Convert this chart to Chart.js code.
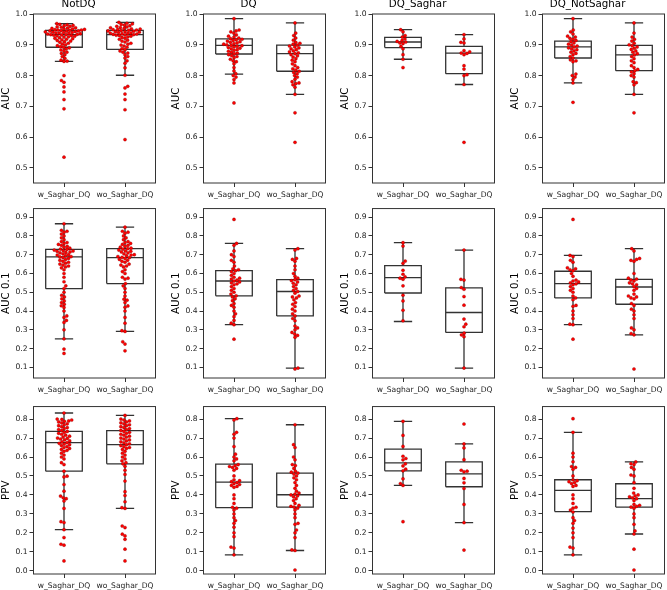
<!DOCTYPE html>
<html><head><meta charset="utf-8">
<script src="https://cdn.jsdelivr.net/npm/chart.js@4.4.1/dist/chart.umd.min.js"></script>
<style>
html,body{margin:0;padding:0;background:#fff;}
body{width:667px;height:590px;overflow:hidden;position:relative;}
canvas{position:absolute;}
</style></head><body>
<script>
// ---------------- DATA ----------------
const columnTitles = ['NotDQ', 'DQ', 'DQ_Saghar', 'DQ_NotSaghar'];
const metricLabels = ['AUC', 'AUC 0.1', 'PPV'];
const categories = ['w_Saghar_DQ', 'wo_Saghar_DQ'];

const yTicksAUC = [0.5, 0.6, 0.7, 0.8, 0.9, 1.0];
const yTicksAUC01 = [0.1, 0.2, 0.3, 0.4, 0.5, 0.6, 0.7, 0.8, 0.9];
const yTicksPPV = [0.0, 0.1, 0.2, 0.3, 0.4, 0.5, 0.6, 0.7, 0.8];
const yRangeAUC = [0.451, 1.0];
const yRangeAUC01 = [0.043, 0.946];
const yRangePPV = [-0.017, 0.866];

// box stats per group: [lower whisker, Q1, median, Q3, upper whisker]
const boxAUC_NotDQ = [[0.846, 0.892, 0.933, 0.947, 0.969], [0.801, 0.885, 0.933, 0.947, 0.973]];
const boxAUC_DQ = [[0.805, 0.870, 0.898, 0.919, 0.985], [0.739, 0.814, 0.871, 0.899, 0.971]];
const boxAUC_DQSaghar = [[0.853, 0.891, 0.909, 0.924, 0.949], [0.771, 0.806, 0.873, 0.895, 0.933]];
const boxAUC_DQNotSaghar = [[0.776, 0.857, 0.893, 0.912, 0.985], [0.739, 0.816, 0.867, 0.898, 0.971]];

const boxAUC01_NotDQ = [[0.252, 0.519, 0.688, 0.728, 0.865], [0.291, 0.546, 0.684, 0.732, 0.847]];
const boxAUC01_DQ = [[0.327, 0.481, 0.560, 0.615, 0.760], [0.096, 0.374, 0.504, 0.567, 0.732]];
const boxAUC01_DQSaghar = [[0.344, 0.496, 0.578, 0.642, 0.764], [0.096, 0.286, 0.392, 0.523, 0.725]];
const boxAUC01_DQNotSaghar = [[0.327, 0.470, 0.546, 0.612, 0.696], [0.273, 0.436, 0.528, 0.569, 0.732]];

const boxPPV_NotDQ = [[0.217, 0.525, 0.676, 0.735, 0.832], [0.329, 0.564, 0.665, 0.739, 0.819]];
const boxPPV_DQ = [[0.084, 0.333, 0.467, 0.562, 0.802], [0.107, 0.336, 0.401, 0.515, 0.770]];
const boxPPV_DQSaghar = [[0.450, 0.527, 0.569, 0.642, 0.788], [0.254, 0.443, 0.511, 0.574, 0.669]];
const boxPPV_DQNotSaghar = [[0.084, 0.312, 0.424, 0.480, 0.730], [0.194, 0.336, 0.380, 0.459, 0.574]];

// individual points (swarm)
const ptsAUC_NotDQ_w = [0.969,0.966,0.965,0.963,0.962,0.960,0.958,0.957,0.955,0.954,0.953,0.952,0.951,0.950,0.949,0.948,0.948,0.947,0.946,0.945,0.945,0.944,0.943,0.942,0.941,0.940,0.940,0.939,0.938,0.937,0.936,0.935,0.934,0.933,0.933,0.932,0.931,0.930,0.929,0.928,0.926,0.925,0.923,0.921,0.920,0.918,0.916,0.914,0.912,0.910,0.908,0.905,0.902,0.900,0.897,0.894,0.892,0.890,0.887,0.883,0.880,0.876,0.872,0.868,0.862,0.856,0.850,0.847,0.846,0.800,0.784,0.778,0.763,0.747,0.722,0.692,0.535];
const ptsAUC_NotDQ_wo = [0.973,0.970,0.968,0.966,0.964,0.962,0.960,0.958,0.956,0.955,0.953,0.952,0.951,0.950,0.949,0.948,0.947,0.946,0.945,0.944,0.943,0.942,0.941,0.940,0.939,0.938,0.937,0.936,0.935,0.934,0.933,0.932,0.931,0.930,0.928,0.926,0.924,0.921,0.918,0.915,0.912,0.909,0.905,0.902,0.899,0.896,0.892,0.888,0.884,0.880,0.876,0.873,0.868,0.862,0.857,0.848,0.840,0.825,0.801,0.765,0.760,0.740,0.722,0.689,0.592];
const ptsAUC_DQ_w = [0.985,0.948,0.945,0.942,0.938,0.932,0.928,0.925,0.922,0.920,0.918,0.916,0.914,0.912,0.910,0.908,0.906,0.904,0.902,0.900,0.898,0.897,0.895,0.893,0.891,0.889,0.887,0.884,0.882,0.879,0.876,0.873,0.871,0.868,0.865,0.862,0.858,0.853,0.848,0.845,0.838,0.826,0.815,0.806,0.800,0.795,0.787,0.776,0.711];
const ptsAUC_DQ_wo = [0.971,0.938,0.930,0.922,0.915,0.908,0.905,0.902,0.899,0.896,0.893,0.890,0.887,0.884,0.880,0.877,0.874,0.871,0.868,0.864,0.860,0.855,0.850,0.845,0.838,0.832,0.826,0.822,0.818,0.814,0.810,0.806,0.800,0.795,0.788,0.780,0.776,0.774,0.770,0.762,0.739,0.679,0.583];
const ptsAUC_DQSaghar_w = [0.949,0.942,0.930,0.925,0.919,0.914,0.911,0.909,0.906,0.904,0.895,0.887,0.868,0.853,0.826];
const ptsAUC_DQSaghar_wo = [0.933,0.919,0.908,0.906,0.881,0.877,0.873,0.872,0.868,0.832,0.821,0.803,0.800,0.771,0.583];
const ptsAUC_DQNotSaghar_w = [0.985,0.948,0.942,0.935,0.928,0.925,0.921,0.918,0.914,0.910,0.906,0.902,0.899,0.896,0.893,0.890,0.887,0.884,0.880,0.876,0.872,0.868,0.862,0.857,0.851,0.848,0.845,0.805,0.800,0.795,0.787,0.776,0.713];
const ptsAUC_DQNotSaghar_wo = [0.971,0.938,0.925,0.918,0.912,0.905,0.900,0.897,0.893,0.889,0.885,0.880,0.876,0.871,0.867,0.862,0.855,0.848,0.842,0.832,0.826,0.820,0.816,0.812,0.806,0.800,0.795,0.780,0.777,0.770,0.739,0.679];

const ptsAUC01_NotDQ_w = [0.865,0.830,0.825,0.820,0.810,0.800,0.790,0.780,0.770,0.765,0.760,0.755,0.750,0.745,0.740,0.735,0.730,0.728,0.725,0.722,0.720,0.718,0.715,0.712,0.710,0.705,0.700,0.698,0.695,0.690,0.688,0.685,0.680,0.675,0.670,0.665,0.660,0.655,0.650,0.645,0.640,0.635,0.630,0.620,0.600,0.580,0.556,0.534,0.520,0.500,0.484,0.475,0.465,0.454,0.445,0.436,0.428,0.419,0.400,0.374,0.366,0.350,0.339,0.300,0.252,0.197,0.174];
const ptsAUC01_NotDQ_wo = [0.847,0.825,0.820,0.815,0.800,0.790,0.780,0.770,0.765,0.760,0.755,0.750,0.745,0.740,0.735,0.732,0.730,0.725,0.720,0.718,0.715,0.710,0.705,0.700,0.698,0.695,0.690,0.686,0.684,0.680,0.675,0.670,0.665,0.660,0.650,0.645,0.640,0.635,0.620,0.610,0.600,0.580,0.575,0.570,0.546,0.534,0.520,0.500,0.480,0.463,0.458,0.445,0.427,0.420,0.400,0.366,0.335,0.295,0.291,0.236,0.224,0.188];
const ptsAUC01_DQ_w = [0.888,0.760,0.750,0.720,0.700,0.690,0.670,0.660,0.640,0.625,0.620,0.615,0.610,0.600,0.590,0.580,0.575,0.570,0.565,0.560,0.555,0.550,0.545,0.540,0.530,0.520,0.510,0.500,0.490,0.481,0.475,0.465,0.455,0.440,0.430,0.420,0.400,0.385,0.370,0.350,0.335,0.327,0.250];
const ptsAUC01_DQ_wo = [0.732,0.725,0.680,0.675,0.665,0.640,0.620,0.600,0.585,0.575,0.567,0.562,0.555,0.548,0.540,0.530,0.520,0.510,0.504,0.495,0.480,0.475,0.470,0.460,0.445,0.436,0.424,0.410,0.400,0.385,0.374,0.360,0.348,0.320,0.310,0.300,0.286,0.277,0.270,0.260,0.096,0.091];
const ptsAUC01_DQSaghar_w = [0.764,0.746,0.666,0.654,0.617,0.596,0.582,0.575,0.569,0.534,0.484,0.454,0.404,0.348];
const ptsAUC01_DQSaghar_wo = [0.725,0.569,0.565,0.525,0.516,0.477,0.431,0.357,0.330,0.316,0.282,0.273,0.263,0.096];
const ptsAUC01_DQNotSaghar_w = [0.888,0.696,0.690,0.670,0.660,0.630,0.625,0.620,0.615,0.600,0.585,0.565,0.560,0.555,0.550,0.545,0.540,0.530,0.520,0.510,0.500,0.480,0.470,0.460,0.430,0.425,0.400,0.380,0.360,0.330,0.327,0.250];
const ptsAUC01_DQNotSaghar_wo = [0.732,0.720,0.680,0.675,0.670,0.665,0.600,0.575,0.570,0.565,0.560,0.550,0.545,0.540,0.530,0.520,0.510,0.490,0.480,0.475,0.470,0.465,0.440,0.430,0.410,0.400,0.380,0.360,0.310,0.300,0.280,0.273,0.091];

const ptsPPV_NotDQ_w = [0.832,0.800,0.798,0.795,0.790,0.788,0.785,0.780,0.775,0.770,0.765,0.760,0.755,0.750,0.745,0.740,0.735,0.730,0.725,0.720,0.715,0.710,0.705,0.700,0.698,0.695,0.690,0.685,0.680,0.676,0.672,0.668,0.665,0.660,0.655,0.650,0.645,0.640,0.635,0.630,0.620,0.610,0.600,0.590,0.570,0.560,0.525,0.499,0.495,0.455,0.420,0.394,0.385,0.380,0.368,0.329,0.259,0.254,0.217,0.175,0.140,0.135,0.052];
const ptsPPV_NotDQ_wo = [0.819,0.800,0.795,0.790,0.785,0.780,0.775,0.770,0.765,0.760,0.755,0.750,0.745,0.740,0.735,0.730,0.725,0.720,0.715,0.710,0.705,0.700,0.695,0.690,0.685,0.680,0.675,0.670,0.665,0.660,0.655,0.650,0.645,0.640,0.630,0.620,0.610,0.600,0.590,0.580,0.570,0.564,0.551,0.530,0.508,0.473,0.417,0.397,0.364,0.333,0.329,0.236,0.228,0.193,0.184,0.166,0.114,0.052];
const ptsPPV_DQ_w = [0.802,0.795,0.730,0.720,0.700,0.655,0.615,0.600,0.590,0.580,0.560,0.555,0.550,0.545,0.540,0.530,0.500,0.480,0.475,0.470,0.465,0.460,0.455,0.450,0.445,0.440,0.400,0.380,0.355,0.335,0.330,0.320,0.300,0.280,0.265,0.250,0.230,0.200,0.180,0.125,0.120,0.084];
const ptsPPV_DQ_wo = [0.770,0.665,0.650,0.600,0.585,0.560,0.555,0.540,0.525,0.520,0.515,0.510,0.500,0.490,0.480,0.465,0.450,0.435,0.420,0.410,0.405,0.400,0.395,0.390,0.380,0.370,0.355,0.345,0.340,0.336,0.330,0.320,0.300,0.280,0.250,0.245,0.215,0.200,0.175,0.110,0.107,0.004];
const ptsPPV_DQSaghar_w = [0.788,0.714,0.656,0.604,0.592,0.585,0.564,0.553,0.536,0.527,0.485,0.460,0.450,0.259];
const ptsPPV_DQSaghar_wo = [0.774,0.669,0.648,0.586,0.530,0.525,0.522,0.487,0.464,0.434,0.350,0.254,0.109];
const ptsPPV_DQNotSaghar_w = [0.802,0.730,0.620,0.600,0.575,0.550,0.545,0.535,0.500,0.480,0.475,0.470,0.465,0.460,0.450,0.445,0.400,0.380,0.355,0.335,0.330,0.320,0.310,0.280,0.265,0.250,0.225,0.200,0.175,0.125,0.120,0.084];
const ptsPPV_DQNotSaghar_wo = [0.574,0.565,0.560,0.545,0.535,0.505,0.500,0.465,0.435,0.410,0.400,0.395,0.390,0.385,0.380,0.370,0.350,0.345,0.340,0.336,0.330,0.300,0.280,0.245,0.210,0.194,0.114,0.004];

// ---------------- ASSEMBLY ----------------
const rows = [
  { ticks: yTicksAUC, range: yRangeAUC,
    boxes: [boxAUC_NotDQ, boxAUC_DQ, boxAUC_DQSaghar, boxAUC_DQNotSaghar],
    pts: [[ptsAUC_NotDQ_w, ptsAUC_NotDQ_wo], [ptsAUC_DQ_w, ptsAUC_DQ_wo], [ptsAUC_DQSaghar_w, ptsAUC_DQSaghar_wo], [ptsAUC_DQNotSaghar_w, ptsAUC_DQNotSaghar_wo]] },
  { ticks: yTicksAUC01, range: yRangeAUC01,
    boxes: [boxAUC01_NotDQ, boxAUC01_DQ, boxAUC01_DQSaghar, boxAUC01_DQNotSaghar],
    pts: [[ptsAUC01_NotDQ_w, ptsAUC01_NotDQ_wo], [ptsAUC01_DQ_w, ptsAUC01_DQ_wo], [ptsAUC01_DQSaghar_w, ptsAUC01_DQSaghar_wo], [ptsAUC01_DQNotSaghar_w, ptsAUC01_DQNotSaghar_wo]] },
  { ticks: yTicksPPV, range: yRangePPV,
    boxes: [boxPPV_NotDQ, boxPPV_DQ, boxPPV_DQSaghar, boxPPV_DQNotSaghar],
    pts: [[ptsPPV_NotDQ_w, ptsPPV_NotDQ_wo], [ptsPPV_DQ_w, ptsPPV_DQ_wo], [ptsPPV_DQSaghar_w, ptsPPV_DQSaghar_wo], [ptsPPV_DQNotSaghar_w, ptsPPV_DQNotSaghar_wo]] }
];

// layout / style constants
const FONT = 'DejaVu Sans, Liberation Sans, sans-serif';
const COL_LEFT = [33.7, 203.5, 372.8, 542.3];
const PLOT_W = 123.6;
const ROW_TOP = [14.3, 209, 406.7];
const PLOT_H = [169, 170, 168];
const Y_AXIS_W = 33.5;
const X_AXIS_H = 22;
const BOX_HALF = 0.3, CAP_HALF = 0.15;
const LINE_COLOR = '#333333';
const DOT_D = 3.2; // swarm spacing in px
const TICK_SIZE = 7.6;

const framePlugin = {
  id: 'frame',
  afterDraw(chart) {
    const {ctx, chartArea: a} = chart;
    ctx.save();
    ctx.strokeStyle = '#333';
    ctx.lineWidth = 1;
    ctx.strokeRect(a.left, a.top, a.right - a.left, a.bottom - a.top);
    ctx.restore();
  }
};

function boxLineData(stats) {
  const out = [];
  stats.forEach((s, i) => {
    const [lo, q1, med, q3, hi] = s;
    const seg = (pts) => { pts.forEach(p => out.push({x: p[0], y: p[1]})); out.push({x: i, y: null}); };
    seg([[i - BOX_HALF, q1], [i + BOX_HALF, q1], [i + BOX_HALF, q3], [i - BOX_HALF, q3], [i - BOX_HALF, q1]]);
    seg([[i - BOX_HALF, med], [i + BOX_HALF, med]]);
    seg([[i, q1], [i, lo]]);
    seg([[i - CAP_HALF, lo], [i + CAP_HALF, lo]]);
    seg([[i, q3], [i, hi]]);
    seg([[i - CAP_HALF, hi], [i + CAP_HALF, hi]]);
  });
  return out;
}

function swarmOffsets(ys, d, maxHalf) {
  const order = ys.map((y, i) => ({i, y})).sort((a, b) => b.y - a.y);
  const placed = [];
  const xs = new Array(ys.length).fill(0);
  let flip = 1;
  for (const p of order) {
    const near = placed.filter(q => Math.abs(q.y - p.y) < d);
    const cands = [0];
    for (const q of near) {
      const dx = Math.sqrt(Math.max(0, d * d - (q.y - p.y) ** 2));
      cands.push(q.x + dx, q.x - dx);
    }
    cands.sort((a, b) => Math.abs(a) - Math.abs(b) || (flip * (a - b)));
    let best = cands[cands.length - 1];
    for (const c of cands) {
      if (near.every(q => (q.x - c) ** 2 + (q.y - p.y) ** 2 >= d * d - 1e-6)) { best = c; break; }
    }
    flip = -flip;
    placed.push({x: best, y: p.y});
    xs[p.i] = Math.max(-maxHalf, Math.min(maxHalf, best));
  }
  return xs;
}

function makePanel(r, c) {
  const row = rows[r];
  const topArea = r === 0 ? 16 : 6;
  const W = Math.ceil(Y_AXIS_W + PLOT_W + 2);
  const H = Math.ceil(topArea + PLOT_H[r] + X_AXIS_H + 1);
  const canvas = document.createElement('canvas');
  canvas.width = W; canvas.height = H;
  canvas.style.width = W + 'px'; canvas.style.height = H + 'px';
  let cl = COL_LEFT[c] - Y_AXIS_W, ct = ROW_TOP[r] - topArea;
  canvas.style.left = cl + 'px';
  canvas.style.top = ct + 'px';
  document.body.appendChild(canvas);

  const rawPts = row.pts[c];
  const chart = new Chart(canvas, {
    type: 'scatter',
    data: {
      datasets: [
        { label: 'points', data: [], showLine: false,
          pointRadius: 1.6, pointBackgroundColor: '#ff0000',
          pointBorderColor: 'rgba(110,0,0,0.6)', pointBorderWidth: 0.5 },
        { label: 'boxes', data: boxLineData(row.boxes[c]), showLine: true, spanGaps: false,
          borderColor: LINE_COLOR, borderWidth: 1.3, pointRadius: 0, fill: false, tension: 0 }
      ]
    },
    options: {
      responsive: false, animation: false, devicePixelRatio: 1,
      events: [],
      layout: { padding: { left: 0, top: r === 0 ? 0 : topArea,
        right: W - Y_AXIS_W - PLOT_W, bottom: H - topArea - PLOT_H[r] - X_AXIS_H } },
      plugins: {
        legend: { display: false }, tooltip: { enabled: false },
        title: r === 0 ? { display: true, text: columnTitles[c], color: '#000',
          font: { family: FONT, size: 10.3, weight: 'normal', lineHeight: 1.2 },
          padding: { top: 0, bottom: topArea - 10.3 * 1.2 } } : { display: false }
      },
      scales: {
        x: {
          type: 'linear', min: -0.5, max: 1.5,
          afterBuildTicks: s => { s.ticks = [{value: 0}, {value: 1}]; },
          afterFit: s => { s.height = X_AXIS_H; },
          ticks: { callback: v => categories[Math.round(v)], autoSkip: false, maxRotation: 0, minRotation: 0,
            font: { family: FONT, size: TICK_SIZE }, color: '#222', padding: 3 },
          grid: { drawOnChartArea: false, drawTicks: true, tickLength: 4, color: '#333', lineWidth: 1 },
          border: { display: false }
        },
        y: {
          type: 'linear', min: row.range[0], max: row.range[1],
          afterBuildTicks: s => { s.ticks = row.ticks.map(v => ({value: v})); },
          afterFit: s => { s.width = Y_AXIS_W; },
          ticks: { callback: v => Number(v).toFixed(1), font: { family: FONT, size: TICK_SIZE }, color: '#222', padding: 2 },
          grid: { drawOnChartArea: false, drawTicks: true, tickLength: 4, color: '#333', lineWidth: 1 },
          border: { display: false },
          title: { display: true, text: metricLabels[r], color: '#000',
            font: { family: FONT, size: 10.3, lineHeight: 1.2 }, padding: { top: 0, bottom: 0 } }
        }
      }
    },
    plugins: [framePlugin]
  });

  // align chart area with target position
  const a = chart.chartArea;
  cl += COL_LEFT[c] - (cl + a.left);
  ct += ROW_TOP[r] - (ct + a.top);
  canvas.style.left = cl + 'px';
  canvas.style.top = ct + 'px';

  // swarm layout computed through the chart's scales
  const xs = chart.scales.x, ys = chart.scales.y;
  const pxPerCat = xs.getPixelForValue(1) - xs.getPixelForValue(0);
  const pts = [];
  rawPts.forEach((vals, gi) => {
    const py = vals.map(v => ys.getPixelForValue(v));
    const off = swarmOffsets(py, DOT_D, 0.42 * pxPerCat);
    vals.forEach((v, k) => pts.push({x: gi + off[k] / pxPerCat, y: v}));
  });
  chart.data.datasets[0].data = pts;
  chart.update('none');
}

for (let r = 0; r < 3; r++) for (let c = 0; c < 4; c++) makePanel(r, c);
</script>
</body></html>
